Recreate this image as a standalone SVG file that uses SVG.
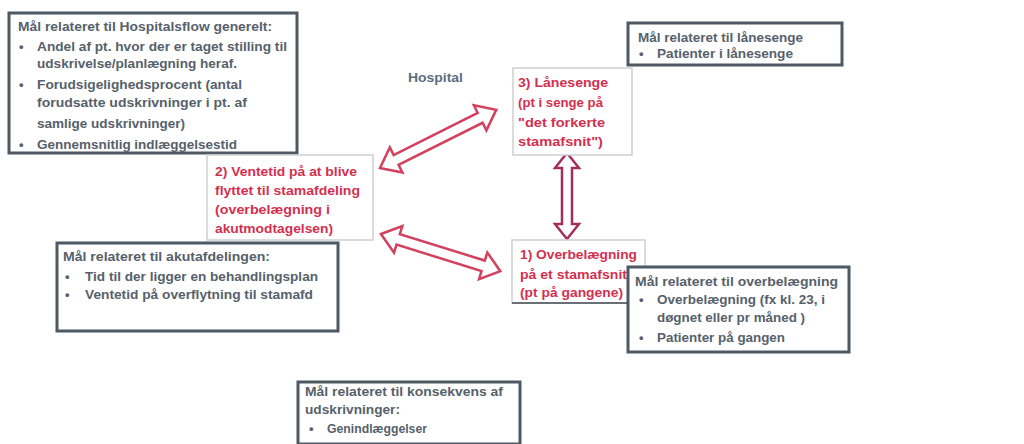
<svg xmlns="http://www.w3.org/2000/svg" width="1024" height="444" viewBox="0 0 1024 444">
<style>
.t{font-family:"Liberation Sans Narrow","Liberation Sans",Arial,sans-serif;font-weight:bold;font-size:13px;fill:#56616b}
.r{font-family:"Liberation Sans Narrow","Liberation Sans",Arial,sans-serif;font-weight:bold;font-size:13.5px;fill:#d3304f}
.goal{fill:#ffffff;stroke:#4e5964;stroke-width:3}
.step{fill:#ffffff;stroke:#cfcfcf;stroke-width:1.5}
.arr{fill:#ffffff;stroke:#d2415d;stroke-width:2.5;stroke-linejoin:miter}
.arr2{fill:#ffffff;stroke:#a3305a;stroke-width:2.5;stroke-linejoin:miter}
</style>
<rect width="1024" height="444" fill="#ffffff"/>

<g id="connectors">
<path class="arr" transform="translate(380,168) rotate(-26.6)" d="M0,0 L18,-14 L18,-5.5 L112,-5.5 L112,-14 L130,0 L112,14 L112,5.5 L18,5.5 L18,14 Z"/>
<path class="arr" transform="translate(381,234) rotate(17.3)" d="M0,0 L18,-14 L18,-5.5 L107,-5.5 L107,-14 L125,0 L107,14 L107,5.5 L18,5.5 L18,14 Z"/>
<path class="arr2" transform="translate(567,153) rotate(90)" d="M0,0 L15,-12 L15,-5 L71,-5 L71,-12 L86,0 L71,12 L71,5 L15,5 L15,12 Z"/>
</g>

<g id="goal-hospitalsflow">
<rect class="goal" x="9" y="13" width="288" height="140"/>
<text class="t" x="18" y="31" textLength="254" lengthAdjust="spacingAndGlyphs">Mål relateret til Hospitalsflow generelt:</text>
<text class="t" x="19" y="51">•</text>
<text class="t" x="37" y="51" textLength="250" lengthAdjust="spacingAndGlyphs">Andel af pt. hvor der er taget stilling til</text>
<text class="t" x="37" y="68" textLength="200" lengthAdjust="spacingAndGlyphs">udskrivelse/planlægning heraf.</text>
<text class="t" x="19" y="89">•</text>
<text class="t" x="37" y="89" textLength="205" lengthAdjust="spacingAndGlyphs">Forudsigelighedsprocent (antal</text>
<text class="t" x="37" y="107" textLength="210" lengthAdjust="spacingAndGlyphs">forudsatte udskrivninger i pt. af</text>
<text class="t" x="37" y="128" textLength="148" lengthAdjust="spacingAndGlyphs">samlige udskrivninger)</text>
<text class="t" x="19" y="149">•</text>
<text class="t" x="37" y="149" textLength="200" lengthAdjust="spacingAndGlyphs">Gennemsnitlig indlæggelsestid</text>
</g>

<g id="step2-ventetid">
<rect class="step" x="207" y="155" width="166" height="85"/>
<text class="r" x="215" y="176" textLength="142" lengthAdjust="spacingAndGlyphs">2) Ventetid på at blive</text>
<text class="r" x="215" y="195" textLength="145" lengthAdjust="spacingAndGlyphs">flyttet til stamafdeling</text>
<text class="r" x="215" y="214" textLength="115" lengthAdjust="spacingAndGlyphs">(overbelægning i</text>
<text class="r" x="215" y="233" textLength="118" lengthAdjust="spacingAndGlyphs">akutmodtagelsen)</text>
</g>

<g id="goal-akut">
<rect class="goal" x="57" y="243" width="281" height="88"/>
<text class="t" x="63" y="261" textLength="207" lengthAdjust="spacingAndGlyphs">Mål relateret til akutafdelingen:</text>
<text class="t" x="65" y="281">•</text>
<text class="t" x="85" y="281" textLength="233" lengthAdjust="spacingAndGlyphs">Tid til der ligger en  behandlingsplan</text>
<text class="t" x="65" y="299">•</text>
<text class="t" x="85" y="299" textLength="228" lengthAdjust="spacingAndGlyphs">Ventetid på overflytning til stamafd</text>
</g>

<g id="label-hospital">
<text class="t" x="408" y="82" textLength="55" lengthAdjust="spacingAndGlyphs" style="fill:#5b6e80">Hospital</text>
</g>

<g id="step3-laanesenge">
<rect class="step" x="513" y="68" width="119" height="87"/>
<text class="r" x="518" y="87" textLength="90" lengthAdjust="spacingAndGlyphs">3) Lånesenge</text>
<text class="r" x="518" y="107" textLength="85" lengthAdjust="spacingAndGlyphs">(pt i senge på</text>
<text class="r" x="518" y="127" textLength="87" lengthAdjust="spacingAndGlyphs">"det forkerte</text>
<text class="r" x="518" y="146" textLength="85" lengthAdjust="spacingAndGlyphs">stamafsnit")</text>
</g>

<g id="goal-laanesenge">
<rect class="goal" x="628" y="23" width="214" height="42"/>
<text class="t" x="638" y="42" textLength="165" lengthAdjust="spacingAndGlyphs">Mål relateret til lånesenge</text>
<text class="t" x="639" y="58">•</text>
<text class="t" x="657" y="58" textLength="136" lengthAdjust="spacingAndGlyphs">Patienter i lånesenge</text>
</g>

<g id="step1-overbelaegning">
<rect class="step" x="512" y="240" width="133" height="63"/>
<line x1="512" y1="303" x2="645" y2="303" stroke="#6a6f78" stroke-width="2"/>
<text class="r" x="520" y="259" textLength="117" lengthAdjust="spacingAndGlyphs">1) Overbelægning</text>
<text class="r" x="520" y="279" textLength="107" lengthAdjust="spacingAndGlyphs">på et stamafsnit</text>
<text class="r" x="520" y="297" textLength="103" lengthAdjust="spacingAndGlyphs">(pt på gangene)</text>
</g>

<g id="goal-overbelaegning">
<rect class="goal" x="628" y="267" width="221" height="85"/>
<text class="t" x="635" y="286" textLength="203" lengthAdjust="spacingAndGlyphs">Mål relateret til overbelægning</text>
<text class="t" x="639" y="304">•</text>
<text class="t" x="657" y="304" textLength="168" lengthAdjust="spacingAndGlyphs">Overbelægning (fx kl. 23, i</text>
<text class="t" x="657" y="322" textLength="148" lengthAdjust="spacingAndGlyphs">døgnet eller pr måned )</text>
<text class="t" x="639" y="342">•</text>
<text class="t" x="657" y="342" textLength="128" lengthAdjust="spacingAndGlyphs">Patienter på gangen</text>
</g>

<g id="goal-konsekvens">
<rect class="goal" x="298" y="382" width="222" height="62"/>
<text class="t" x="305" y="396" textLength="198" lengthAdjust="spacingAndGlyphs">Mål relateret til konsekvens af</text>
<text class="t" x="305" y="414" textLength="95" lengthAdjust="spacingAndGlyphs">udskrivninger:</text>
<text class="t" x="309" y="433">•</text>
<text class="t" x="327" y="433" textLength="100" lengthAdjust="spacingAndGlyphs">Genindlæggelser</text>
</g>
</svg>
